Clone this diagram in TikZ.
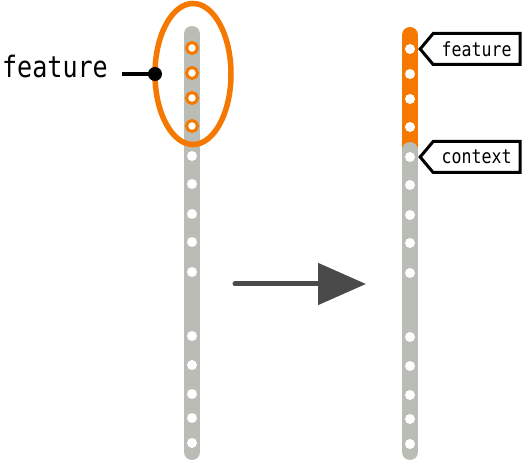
\documentclass[tikz,border=0pt]{standalone}
\usepackage{fontspec}
\setmonofont{DejaVu Sans Mono}
\newfontfamily\narrowmono[FakeStretch=0.85]{DejaVu Sans Mono}
\usepackage{tikz}
\usetikzlibrary{arrows.meta}
\usetikzlibrary{positioning,shapes.symbols,shapes.geometric}
\usepackage{xcolor}

\definecolor{tangoorange}{HTML}{F57900}
\definecolor{tangogrey}{HTML}{BABDB6}
\definecolor{arrowgrey}{HTML}{4A4A4A}

\tikzset{
	strand/.style={line width=16pt, line cap=round},
	hole/.style={circle, fill=white, inner sep=0pt, minimum size=10pt},
	ringhole/.style={circle, draw=tangoorange, line width=3pt, fill=white, inner sep=0pt, minimum size=11pt},
	tagbox/.style={shape=signal, signal to=west, signal pointer angle=100, draw, line width=3pt,
		fill=white, font=\narrowmono\fontsize{19.5}{22}\selectfont, minimum width=100pt, minimum height=31pt, inner sep=2pt}
}

\begin{document}
\begin{tikzpicture}[x=1pt, y=-1pt, node distance=3pt]
		\useasboundingbox (0,0) rectangle (523,465);
		
		% left strand
		\draw[strand, tangogrey] (192,34) -- (192,452);
		\foreach \y [count=\i] in {48,73,98,126}
		\node[ringhole] (l\i) at (192,\y) {};
		\foreach \y [count=\i from 5] in {156,184,214,242,272,336,365,394,418,443}
		\node[hole] (l\i) at (192,\y) {};
		
		% selection
		\node[ellipse, draw=tangoorange, line width=5.5pt, outer sep=0pt, minimum width=76pt, minimum height=141pt] (sel) at (193,74) {};
		\fill (sel.west) circle (7pt) coordinate (featdot);
		\node[anchor=base east, inner sep=0pt, font=\narrowmono\fontsize{29.5}{32}\selectfont] (featlabel) at (108,78) {feature};
		\draw[line width=4pt, shorten <=14pt] (featlabel.east |- featdot) -- (featdot);
		
		% arrow
		\coordinate (arrstart) at (235,284);
		\coordinate (arrend) at (366,284);
		\draw[arrowgrey, line width=5pt, line cap=round, -{Triangle[length=48pt, width=41pt]}] (arrstart) -- (arrend);
		
		% right strand
		\draw[strand, tangoorange] (410,35) -- (410,148);
		\draw[strand, tangogrey] (410,150) -- (410,452);
		\foreach \y [count=\i] in {49,74,99,127,157,185,215,243,273,337,366,395,419,444}
		\node[hole] (r\i) at (410,\y) {};
		
		% labels
		\node[tagbox, right=of r1] (feattag) {feature};
		\node[tagbox, right=of r5] (ctxtag) {context};
		
	\end{tikzpicture}
\end{document}
